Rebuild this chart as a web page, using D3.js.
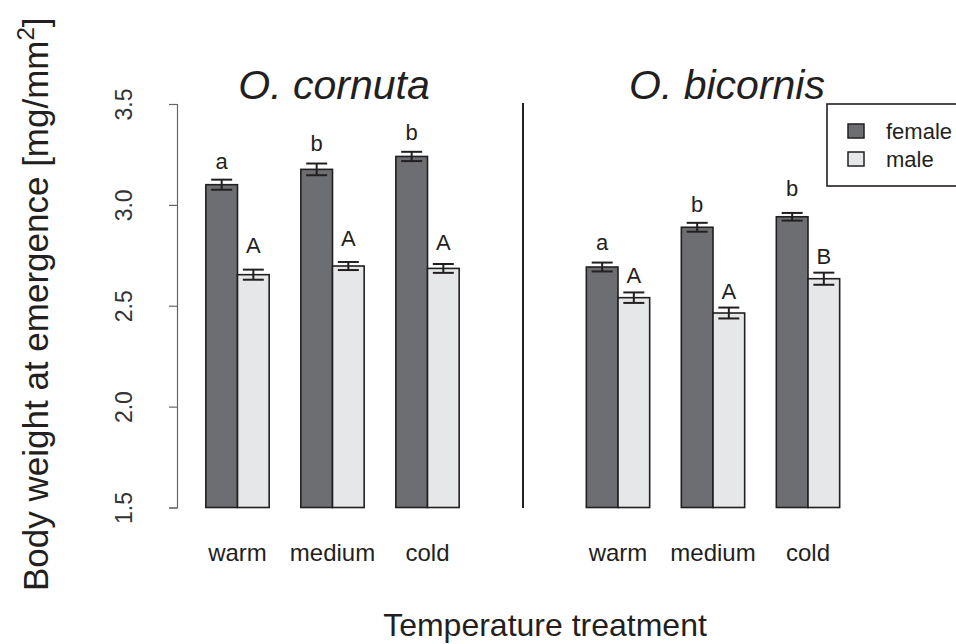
<!DOCTYPE html>
<html>
<head>
<meta charset="utf-8">
<script src="https://cdn.jsdelivr.net/npm/d3@7"></script>
<style>
  html, body { margin: 0; padding: 0; background: #fff; }
  svg { display: block; font-family: "Liberation Sans", Arial, sans-serif; }
</style>
</head>
<body>
<svg id="chart" width="956" height="644"></svg>
<script>
// ---------- data ----------
const species = ["O. cornuta", "O. bicornis"];
const treatments = ["warm", "medium", "cold"];
const sexes = ["female", "male"];
const yTicks = [1.5, 2.0, 2.5, 3.0, 3.5];

const cornutaFemale = [3.100, 3.176, 3.240];
const cornutaFemaleSE = [0.025, 0.029, 0.023];
const cornutaMale = [2.654, 2.697, 2.685];
const cornutaMaleSE = [0.025, 0.020, 0.022];

const bicornisFemale = [2.692, 2.889, 2.941];
const bicornisFemaleSE = [0.022, 0.022, 0.019];
const bicornisMale = [2.540, 2.464, 2.634];
const bicornisMaleSE = [0.026, 0.027, 0.030];

const cornutaFemaleLetters = ["a", "b", "b"];
const cornutaMaleLetters = ["A", "A", "A"];
const bicornisFemaleLetters = ["a", "b", "b"];
const bicornisMaleLetters = ["A", "A", "B"];

// heights (in data units) at which the significance letters sit
const cornutaFemaleLetterAt = [3.176, 3.267, 3.321];
const cornutaMaleLetterAt = [2.762, 2.795, 2.775];
const bicornisFemaleLetterAt = [2.775, 2.965, 3.043];
const bicornisMaleLetterAt = [2.613, 2.533, 2.709];

// ---------- build ----------
const panels = [
  { name: species[0],
    female: cornutaFemale, femaleSE: cornutaFemaleSE, male: cornutaMale, maleSE: cornutaMaleSE,
    fl: cornutaFemaleLetters, ml: cornutaMaleLetters, fla: cornutaFemaleLetterAt, mla: cornutaMaleLetterAt,
    range: [190, 475], titleX: 334 },
  { name: species[1],
    female: bicornisFemale, femaleSE: bicornisFemaleSE, male: bicornisMale, maleSE: bicornisMaleSE,
    fl: bicornisFemaleLetters, ml: bicornisMaleLetters, fla: bicornisFemaleLetterAt, mla: bicornisMaleLetterAt,
    range: [570.5, 855.5], titleX: 727 }
];

const colors = { female: "#6d6e71", male: "#e6e7e8" };
const ink = "#231f20";

const svg = d3.select("#chart");
const y = d3.scaleLinear().domain([1.5, 3.5]).range([507.5, 104]);

panels.forEach(p => {
  const x0 = d3.scaleBand().domain(treatments).range(p.range).paddingInner(1/3).paddingOuter(1/6);
  const x1 = d3.scaleBand().domain(sexes).range([0, x0.bandwidth()]);
  const rows = [];
  treatments.forEach((t, i) => {
    rows.push({ t, sex: "female", v: p.female[i], se: p.femaleSE[i], letter: p.fl[i], la: p.fla[i] });
    rows.push({ t, sex: "male", v: p.male[i], se: p.maleSE[i], letter: p.ml[i], la: p.mla[i] });
  });
  const g = svg.append("g");
  g.selectAll("rect.bar").data(rows).join("rect")
    .attr("class", "bar")
    .attr("x", d => x0(d.t) + x1(d.sex))
    .attr("width", x1.bandwidth())
    .attr("y", d => y(d.v))
    .attr("height", d => y(1.5) - y(d.v))
    .attr("fill", d => colors[d.sex])
    .attr("stroke", ink)
    .attr("stroke-width", 1.6);

  const cx = d => x0(d.t) + x1(d.sex) + x1.bandwidth() / 2;
  const eb = g.selectAll("g.eb").data(rows).join("g").attr("class", "eb")
    .attr("stroke", ink).attr("stroke-width", 2);
  eb.append("line").attr("x1", cx).attr("x2", cx)
    .attr("y1", d => y(d.v - d.se)).attr("y2", d => y(d.v + d.se));
  eb.append("line").attr("x1", d => cx(d) - 10.5).attr("x2", d => cx(d) + 10.5)
    .attr("y1", d => y(d.v + d.se)).attr("y2", d => y(d.v + d.se));
  eb.append("line").attr("x1", d => cx(d) - 10.5).attr("x2", d => cx(d) + 10.5)
    .attr("y1", d => y(d.v - d.se)).attr("y2", d => y(d.v - d.se));

  g.selectAll("text.letter").data(rows).join("text")
    .attr("class", "letter")
    .attr("x", cx)
    .attr("y", d => y(d.la))
    .attr("text-anchor", "middle")
    .attr("font-size", 22)
    .attr("fill", ink)
    .text(d => d.letter);

  g.selectAll("text.cat").data(treatments).join("text")
    .attr("class", "cat")
    .attr("x", d => x0(d) + x0.bandwidth() / 2)
    .attr("y", 561)
    .attr("text-anchor", "middle")
    .attr("font-size", 24)
    .attr("fill", ink)
    .text(d => d);

  svg.append("text")
    .attr("x", p.titleX)
    .attr("y", 99)
    .attr("text-anchor", "middle")
    .attr("font-size", 41)
    .attr("font-style", "italic")
    .attr("fill", ink)
    .text(p.name);
});

// y axis
const yAxis = svg.append("g")
  .attr("transform", "translate(177,0)")
  .call(d3.axisLeft(y).tickValues(yTicks).tickSize(8).tickFormat(d3.format(".1f")));
yAxis.select(".domain").attr("stroke", "#666").attr("stroke-width", 1.2);
yAxis.selectAll(".tick line").attr("stroke", "#666").attr("stroke-width", 1.2);
yAxis.selectAll(".tick text")
  .attr("font-size", 23)
  .attr("font-family", "Liberation Sans, Arial, sans-serif")
  .attr("fill", "#333")
  .attr("x", null).attr("dy", null)
  .attr("text-anchor", "middle")
  .attr("transform", "translate(-45,0) rotate(-90)");

// divider
svg.append("line")
  .attr("x1", 523).attr("x2", 523).attr("y1", 103).attr("y2", 508)
  .attr("stroke", ink).attr("stroke-width", 2);

// y title
const yt = svg.append("text")
  .attr("transform", "translate(48,591) rotate(-90)")
  .attr("font-size", 35)
  .attr("fill", ink);
yt.append("tspan").text("Body weight at emergence [mg/mm");
yt.append("tspan").attr("font-size", 24).attr("dy", -14).text("2");
yt.append("tspan").attr("dy", 14).text("]");

// x title
svg.append("text")
  .attr("x", 545).attr("y", 636)
  .attr("text-anchor", "middle")
  .attr("font-size", 32)
  .attr("fill", ink)
  .text("Temperature treatment");

// legend
svg.append("rect")
  .attr("x", 827).attr("y", 104).attr("width", 140).attr("height", 82)
  .attr("fill", "#fff").attr("stroke", ink).attr("stroke-width", 1.6);
const lg = svg.append("g").selectAll("g").data(sexes).join("g")
  .attr("transform", (d, i) => `translate(848,${124 + i * 28})`);
lg.append("rect").attr("width", 16).attr("height", 14)
  .attr("fill", d => colors[d]).attr("stroke", ink).attr("stroke-width", 1.5);
lg.append("text").attr("x", 38).attr("y", 15)
  .attr("font-size", 22).attr("fill", ink).text(d => d);
</script>
</body>
</html>
